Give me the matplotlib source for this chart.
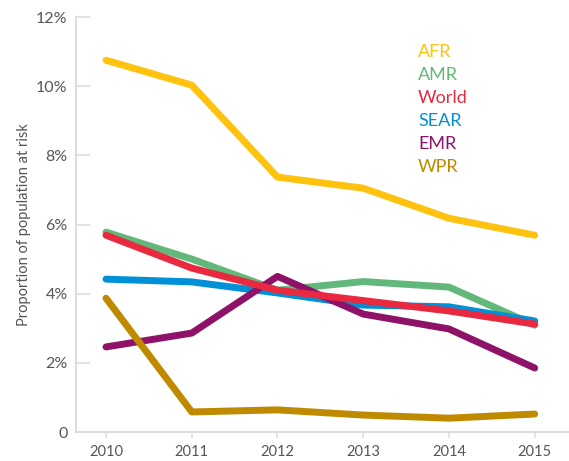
import matplotlib
matplotlib.use('Agg')
import matplotlib.pyplot as plt

# data (% of population at risk)
years = [2010, 2011, 2012, 2013, 2014, 2015]
afr = [10.75, 10.03, 7.37, 7.05, 6.18, 5.69]
amr = [5.78, 5.00, 4.10, 4.35, 4.19, 3.09]
world = [5.69, 4.74, 4.10, 3.80, 3.50, 3.12]
sear = [4.42, 4.34, 4.02, 3.67, 3.62, 3.21]
emr = [2.46, 2.86, 4.50, 3.41, 2.98, 1.85]
wpr = [3.87, 0.58, 0.64, 0.49, 0.40, 0.52]

legend_names = ['AFR', 'AMR', 'World', 'SEAR', 'EMR', 'WPR']
yticks = [0, 2, 4, 6, 8, 10, 12]
ytick_labels = ['0', '2%', '4%', '6%', '8%', '10%', '12%']

colors = {
    'AFR': '#FFC20E',
    'AMR': '#62B87A',
    'World': '#E8293F',
    'SEAR': '#0090D6',
    'EMR': '#8E1268',
    'WPR': '#C08A00',
}

plt.rcParams['font.family'] = ['Lato', 'DejaVu Sans']

fig = plt.figure(figsize=(5.69, 4.61), dpi=100)
ax = fig.add_axes([76 / 569, 1 - 432 / 461, 1 - 76 / 569, 415 / 461])

# drawing order so the overlaps look like the reference
series = [('AMR', amr), ('SEAR', sear), ('EMR', emr), ('WPR', wpr),
          ('World', world), ('AFR', afr)]
for name, vals in series:
    ax.plot(years, vals, color=colors[name], lw=5, solid_capstyle='round',
            solid_joinstyle='round')

ax.set_xlim(2009.65, 2015.40)
ax.set_ylim(0, 12)
ax.set_xticks(years)
ax.set_xticklabels([str(y) for y in years])
ax.set_yticks(yticks)
ax.set_yticklabels(ytick_labels)

for side in ['top', 'right']:
    ax.spines[side].set_visible(False)
for side in ['left', 'bottom']:
    ax.spines[side].set_color('#dddddd')
    ax.spines[side].set_linewidth(1.5)

ax.tick_params(axis='y', direction='in', length=10, width=1.2, color='#dddddd',
               labelsize=11.5, labelcolor='#555555', pad=6)
ax.tick_params(axis='x', direction='out', length=4, width=1.2, color='#dddddd',
               labelsize=10.5, labelcolor='#555555', pad=5)

ax.set_ylabel('Proportion of population at risk', fontsize=10.5, color='#555555',
              labelpad=4)

# inline legend
for i, name in enumerate(legend_names):
    ax.text(0.694, 0.916 - i * 0.0554, name, transform=ax.transAxes,
            fontsize=13, color=colors[name], ha='left', va='center')

fig.savefig('out.png', dpi=100)
